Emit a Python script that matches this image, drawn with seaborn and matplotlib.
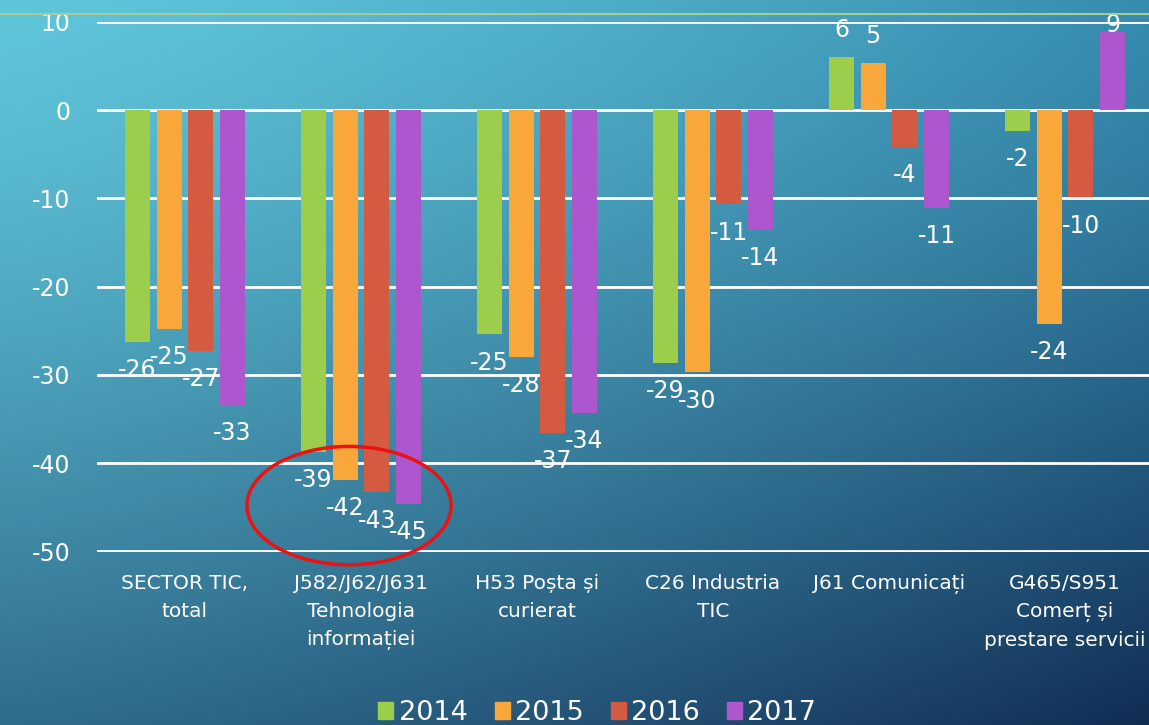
import numpy as np
import pandas as pd
import matplotlib
matplotlib.use('Agg')
import matplotlib.pyplot as plt
from matplotlib.patches import Ellipse, Patch
from matplotlib.lines import Line2D
import seaborn as sns

# date
sectoare = ['SECTOR TIC,\ntotal', 'J582/J62/J631\nTehnologia\ninformației', 'H53 Poșta și\ncurierat',
            'C26 Industria\nTIC', 'J61 Comunicați', 'G465/S951\nComerț și\nprestare servicii']
ani = ['2014', '2015', '2016', '2017']
v2014 = [-26.3, -38.7, -25.4, -28.6, 6.0, -2.4]
v2015 = [-24.8, -41.9, -28.0, -29.7, 5.3, -24.2]
v2016 = [-27.3, -43.3, -36.6, -10.7, -4.2, -9.9]
v2017 = [-33.4, -44.6, -34.3, -13.6, -11.1, 8.8]
culori = ['#9DCE4B', '#F9A63A', '#D45A41', '#AE56CE']
yticks = [10, 0, -10, -20, -30, -40, -50]

rows = []
for an, vals in zip(ani, [v2014, v2015, v2016, v2017]):
    for s, v in zip(sectoare, vals):
        rows.append({'Sector': s, 'An': an, 'Valoare': v})
df = pd.DataFrame(rows)

sns.set_style('white')
plt.rcParams['font.family'] = ['DejaVu Sans']

fig = plt.figure(figsize=(11.49, 7.25), dpi=100)

# fundal in degrade
H, W = 300, 480
u = (np.linspace(0, 1, W) ** 1.3)[None, :, None]
v = (np.linspace(0, 1, H) ** 1.3)[:, None, None]
tl = np.array([95, 198, 218]) / 255
tr = np.array([55, 140, 175]) / 255
bl = np.array([48, 108, 140]) / 255
br = np.array([17, 45, 84]) / 255
grad = tl * (1 - u) * (1 - v) + tr * u * (1 - v) + bl * (1 - u) * v + br * u * v
bg = fig.add_axes([0, 0, 1, 1], zorder=-1)
bg.imshow(grad, aspect='auto', extent=[0, 1, 0, 1], origin='upper')
bg.axis('off')
fig.add_artist(Line2D([0, 1], [1 - 13.5 / 725] * 2, transform=fig.transFigure,
                      color='#a9cc94', lw=1.5))

ax = fig.add_axes([97 / 1149, 173.5 / 725, 1056 / 1149, 529.8 / 725])
ax.patch.set_alpha(0)
sns.barplot(data=df, x='Sector', y='Valoare', hue='An', palette=culori, saturation=1,
            width=0.72, gap=0.21, linewidth=0, ax=ax, legend=False, zorder=3)

ax.set_ylim(-50, 10)
ax.set_xlim(-0.5, 5.5)
ax.set_yticks(yticks)
ax.set_yticklabels([str(t) for t in yticks], color='white', fontsize=17)
ax.tick_params(axis='y', length=0, pad=19)
ax.tick_params(axis='x', length=0, labelbottom=False)
ax.set_xlabel('')
ax.set_ylabel('')
for t in yticks:
    ax.axhline(t, color='white', lw=2, zorder=1)
for s in ax.spines.values():
    s.set_visible(False)

# etichete categorii (cu spatiere intre randuri)
for i, s in enumerate(sectoare):
    ax.annotate(s, xy=(i, 0), xycoords=('data', 'axes fraction'), xytext=(0, -16),
                textcoords='offset points', ha='center', va='top', color='white',
                fontsize=14.5, linespacing=1.6, annotation_clip=False)

# etichete valori
for cont in ax.containers:
    for bar in cont:
        val = bar.get_height()
        xc = bar.get_x() + bar.get_width() / 2
        if val < 0:
            yl = val - 3.2
        else:
            yl = min(val + 3.1, 9.6)
        ax.text(xc, yl, f'{val:.0f}', ha='center', va='center', color='white',
                fontsize=17, zorder=5, clip_on=False)

# cerc rosu
ax.add_patch(Ellipse((0.932, -44.8), 1.16, 13.4, fill=False, edgecolor='#ee1111',
                     lw=2.5, zorder=6, clip_on=False))

handles = [Patch(color=c) for c in culori]
fig.legend(handles, ani, loc='center', bbox_to_anchor=(0.52, 1 - 713 / 725), ncol=4,
           frameon=False, fontsize=19.5, labelcolor='white', handlelength=0.55,
           handleheight=0.62, handletextpad=0.2, columnspacing=1.0)

fig.savefig('out.png', dpi=100)
